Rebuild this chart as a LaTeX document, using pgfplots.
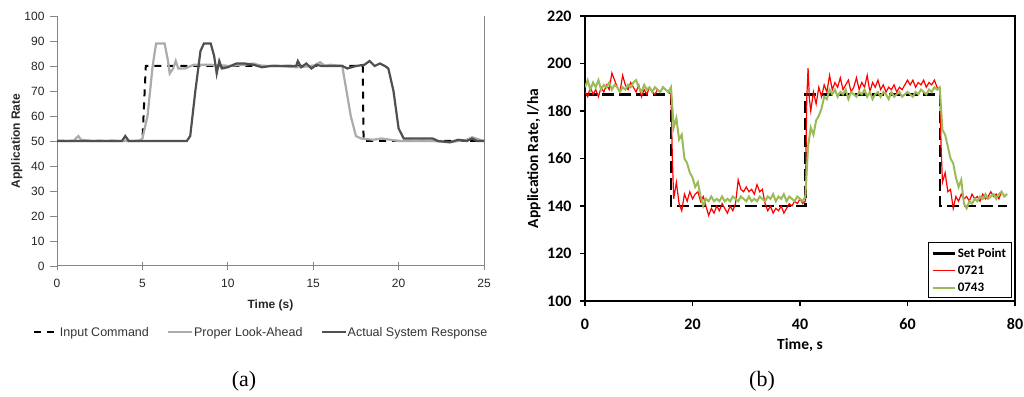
\documentclass[border=0pt]{standalone}
\usepackage{pgfplots}
\pgfplotsset{compat=1.18}
\usepackage{fontspec}
\setmainfont{Liberation Sans}
\newfontfamily\carlito{Carlito}
\newfontfamily\tnr{Liberation Serif}
\definecolor{lightg}{HTML}{ABABAB}
\definecolor{darkg}{HTML}{505050}
\definecolor{axg}{HTML}{868686}
\definecolor{olive}{HTML}{9BBB59}
\begin{document}
\begin{tikzpicture}[x=1pt,y=1pt]
\useasboundingbox (0,0) rectangle (1024,396);
% ---------------- (a) ----------------
\begin{axis}[
  at={(57pt,130pt)}, anchor=south west,
  width=427pt, height=250pt, scale only axis,
  xmin=0,xmax=25,ymin=0,ymax=100,
  axis x line*=bottom, axis y line*=box,
  xtick pos=bottom, ytick pos=left,
  xtick={0,5,...,25}, ytick={0,10,...,100},
  major tick length=7pt,
  xtick align=center, ytick align=outside,
  axis line style={axg, line width=1pt},
  tick style={axg, line width=0.9pt},
  /pgf/number format/assume math mode=true,
  tick label style={font=\fontsize{12}{14}\selectfont, text=black!85},
  xticklabel style={yshift=-6pt},
  yticklabel style={xshift=-2pt},
  xlabel={\bfseries Time (s)},
  ylabel={\bfseries Application Rate},
  label style={font=\fontsize{12}{14}\selectfont, text=black!85},
  xlabel style={at={(axis description cs:0.5,-0.156)}, anchor=center},
  ylabel style={at={(axis description cs:-0.094,0.5)}, anchor=center, rotate=0},
  legend columns=3,
  legend style={at={(0.477,-0.265)}, anchor=center, draw=none, fill=none,
    font=\fontsize{12.5}{14}\selectfont, text=black!80,
    nodes={inner xsep=1pt},
    /tikz/every even column/.append style={column sep=17pt},
    legend cell align=left,
    inner sep=0pt},
  legend image code/.code={\draw[#1] (0pt,0pt) -- (24pt,0pt);},
]
\addplot[black, line width=2pt, dash pattern=on 7pt off 6pt] coordinates {
(0,50)(5.0,50)(5.2,80)(17.9,80)(17.95,50)(25,50)};
\addlegendentry{Input Command}
\addplot[lightg, line width=2.2pt] coordinates {
(0,50)(1,50)(1.1,51)(1.25,52)(1.4,50.5)(2,50)(3,50)(4,50)(4.8,50)(5,51)(5.3,60)(5.6,80)(5.8,89)(6.3,89)(6.5,82)(6.6,77)(6.8,79)(6.95,82)(7.1,79)(7.5,79)(8,80.5)(9,80.5)(10,80)(11,80.5)(11.5,81)(12,80)(13,80)(14,79.5)(15,80)(15.4,81.5)(15.7,80)(16,80.5)(16.7,80)(17.2,60)(17.5,52)(17.8,51)(18.5,50.5)(19,51)(20,50)(21,50)(22,50)(23,49.5)(24,50.5)(24.3,51.5)(25,50)};
\addlegendentry{Proper Look-Ahead}
\addplot[darkg, line width=2.2pt] coordinates {
(0,50)(3.8,50)(4,52)(4.2,50)(4.5,50)(5,50)(7.6,50)(7.8,52)(8.1,70)(8.4,86)(8.6,89)(9.0,89)(9.2,84)(9.35,77)(9.5,82)(9.65,79)(10,79.5)(10.5,81)(11,81)(11.5,80.5)(12,79.5)(12.5,80)(13,80)(13.5,80)(14,80)(14.1,82)(14.3,79.5)(14.6,81)(14.9,79)(15.2,80.5)(15.5,80)(16,80)(16.7,80)(17,79)(17.5,80)(18,80.5)(18.3,82)(18.6,80)(18.9,81)(19.2,80)(19.4,79)(19.7,70)(20,55)(20.3,51)(20.8,51)(21.5,51)(22,51)(22.3,50)(23,49.5)(23.5,50.5)(24,50)(24.3,51)(24.6,50)(25,50)};
\addlegendentry{Actual System Response}
\end{axis}
% ---------------- (b) ----------------
\begin{axis}[
  at={(585pt,95pt)}, anchor=south west,
  width=430pt, height=285pt, scale only axis,
  xmin=0,xmax=80,ymin=100,ymax=220,
  xtick={0,20,...,80}, ytick={100,120,...,220},
  xtick pos=bottom, ytick pos=left,
  tick align=outside, major tick length=5pt,
  axis line style={black, line width=1.6pt},
  tick style={black, line width=1.2pt},
  /pgf/number format/assume math mode=true,
  tick label style={font=\carlito\bfseries\fontsize{16}{18}\selectfont},
  xticklabel style={yshift=-9pt},
  yticklabel style={xshift=-5pt},
  xlabel={Time, s},
  ylabel={Application\,Rate, l/ha},
  label style={font=\carlito\bfseries\fontsize{15.5}{18}\selectfont},
  xlabel style={at={(axis description cs:0.5,-0.154)}, anchor=center},
  ylabel style={at={(axis description cs:-0.119,0.5)}, anchor=center},
  legend style={at={(0.992,0.01)}, anchor=south east, draw=black, line width=1pt,
    font=\carlito\bfseries\fontsize{13}{15}\selectfont,
    row sep=3pt, inner sep=3pt, legend cell align=left},
  legend image code/.code={\draw[#1] (0pt,0pt) -- (22pt,0pt);},
]
\addlegendimage{black, line width=2.5pt}
\addlegendentry{Set Point}
\addlegendimage{red, line width=1.2pt}
\addlegendentry{0721}
\addlegendimage{olive, line width=2pt}
\addlegendentry{0743}
\addplot[forget plot, black, line width=2.5pt, dash pattern=on 12pt off 5pt] coordinates {
(0,187)(16,187)(16,140)(41,140)(41,187)(66,187)(66,140)(78.5,140)};
\addplot[forget plot, red, line width=1.2pt] coordinates {
(0,188)(0.5,186)(1,190)(1.5,187)(2,189)(2.5,186)(3,190)(3.5,188)(4,191)(4.5,189)(5,196)(5.5,193)(6,190)(6.5,188)(7,195)(7.5,191)(8,189)(8.5,192)(9,190)(9.5,188)(10,191)(10.5,186)(11,189)(11.5,187)(12,190)(12.5,188)(13,187)(13.5,189)(14,188)(14.5,190)(15,189)(15.5,188)(16,187)(16.25,160)(16.5,143)(17,150)(17.5,141)(18,138)(18.5,145)(19,142)(19.5,146)(20,143)(20.5,145)(21,146)(21.5,142)(22,144)(22.5,140)(23,136)(23.5,139)(24,137)(24.5,140)(25,138)(25.5,141)(26,139)(26.5,137)(27,140)(27.5,138)(28,141)(28.5,151)(29,147)(29.5,146)(30,148)(30.5,146)(31,147)(31.5,145)(32,149)(32.5,146)(33,147)(33.5,141)(34,138)(34.5,140)(35,137)(35.5,139)(36,138)(36.5,140)(37,137)(37.5,139)(38,141)(38.5,140)(39,142)(39.5,141)(40,143)(40.5,141)(41,142)(41.25,185)(41.5,198)(41.75,185)(42,180)(42.5,188)(43,183)(43.5,190)(44,186)(44.5,191)(45,188)(45.5,195)(46,189)(46.5,192)(47,190)(47.5,194)(48,189)(48.5,191)(49,193)(49.5,188)(50,190)(50.5,194)(51,189)(51.5,192)(52,190)(52.5,195)(53,188)(53.5,192)(54,190)(54.5,193)(55,189)(55.5,191)(56,188)(56.5,190)(57,189)(57.5,191)(58,188)(58.5,190)(59,189)(59.5,191)(60,193)(60.5,191)(61,193)(61.5,190)(62,192)(62.5,191)(63,193)(63.5,190)(64,192)(64.5,191)(65,193)(65.5,190)(66,189)(66.25,165)(66.5,150)(67,154)(67.5,146)(68,147)(68.5,139)(69,144)(69.5,142)(70,145)(70.5,143)(71,144)(71.5,142)(72,145)(72.5,143)(73,144)(73.5,142)(74,145)(74.5,143)(75,144)(75.5,146)(76,144)(76.5,145)(77,143)(77.5,146)(78,144)(78.5,145)};
\addplot[forget plot, olive, line width=2pt] coordinates {
(0,190)(0.5,193)(1,189)(1.5,192)(2,190)(2.5,193)(3,189)(3.5,191)(4,190)(4.5,192)(5,189)(5.5,191)(6,190)(6.5,188)(7,190)(7.5,189)(8,191)(8.5,190)(9,192)(9.5,193)(10,190)(10.5,188)(11,191)(11.5,189)(12,190)(12.5,188)(13,190)(13.5,189)(14,188)(14.5,190)(15,189)(15.5,188)(16,190)(16.5,173)(17,177)(17.5,168)(18,170)(18.5,160)(19,158)(19.5,154)(20,152)(20.5,148)(21,150)(21.5,144)(22,140)(22.5,143)(23,142)(23.5,144)(24,142)(24.5,143)(25,142)(25.5,144)(26,142)(26.5,143)(27,142)(27.5,144)(28,143)(28.5,142)(29,144)(29.5,143)(30,142)(30.5,144)(31,142)(31.5,143)(32,142)(32.5,144)(33,143)(33.5,142)(34,144)(34.5,143)(35,145)(35.5,142)(36,144)(36.5,143)(37,145)(37.5,142)(38,144)(38.5,143)(39,142)(39.5,144)(40,143)(40.5,142)(41,144)(41.5,165)(42,173)(42.5,170)(43,176)(43.5,178)(44,181)(44.5,186)(45,185)(45.5,189)(46,187)(46.5,189)(47,186)(47.5,188)(48,187)(48.5,189)(49,185)(49.5,188)(50,187)(50.5,186)(51,188)(51.5,187)(52,189)(52.5,186)(53,188)(53.5,185)(54,187)(54.5,188)(55,186)(55.5,188)(56,187)(56.5,185)(57,188)(57.5,186)(58,187)(58.5,188)(59,186)(59.5,187)(60,188)(60.5,187)(61,186)(61.5,188)(62,187)(62.5,189)(63,188)(63.5,187)(64,189)(64.5,188)(65,190)(65.5,189)(66,190)(66.5,172)(67,170)(67.5,165)(68,160)(68.5,158)(69,152)(69.5,148)(70,151)(70.5,141)(71,139)(71.5,142)(72,141)(72.5,143)(73,142)(73.5,144)(74,143)(74.5,145)(75,143)(75.5,144)(76,145)(76.5,143)(77,145)(77.5,146)(78,144)(78.5,145)};
\end{axis}
\node[font=\tnr\fontsize{22}{24}\selectfont] at (244,15) {(a)};
\node[font=\tnr\fontsize{22}{24}\selectfont] at (762,15) {(b)};
\end{tikzpicture}
\end{document}
